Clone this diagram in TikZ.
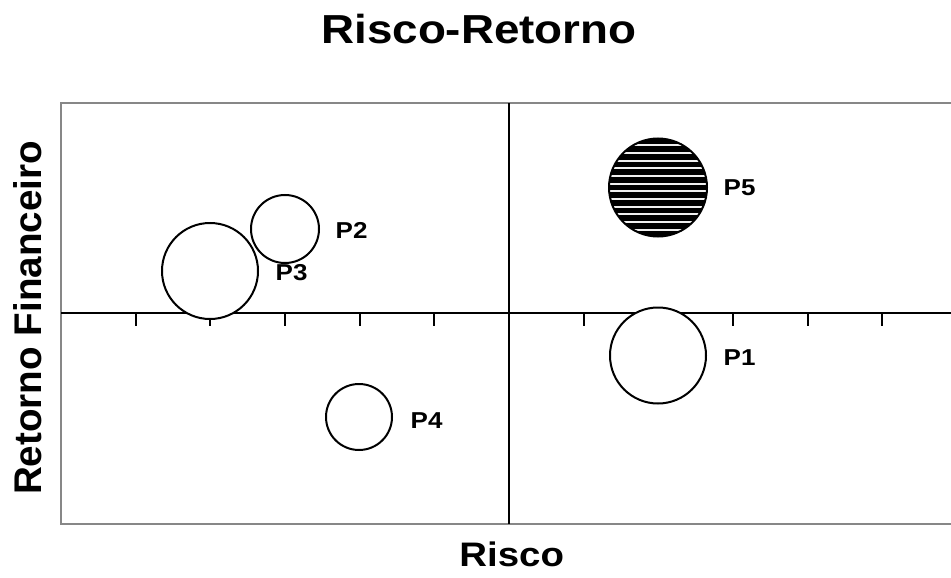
\documentclass[tikz,border=0pt]{standalone}
\usepackage{fontspec}
\setmainfont{Liberation Sans}
\newfontfamily\hfont[FakeStretch=1.13]{Liberation Sans}
\newfontfamily\vfont{Liberation Sans}
\begin{document}
\begin{tikzpicture}[x=1pt,y=-1pt,
  frame/.style={draw=black!47, line width=2pt},
  axisline/.style={draw=black, line width=2pt},
  tickmark/.style={draw=black, line width=2pt},
  bubble/.style={circle, draw=black, line width=2pt, inner sep=0pt, fill=white},
  plabel/.style={anchor=base west, inner sep=0pt, font=\hfont\bfseries\fontsize{23}{27}\selectfont},
  hatchbubble/.style={circle, draw=black, line width=2pt, inner sep=0pt, fill=black,
    path picture={
      \foreach \k in {-5.5,-4.5,...,5.5}{
        \draw[gray!12, line width=1.8pt]
          ([yshift=\k*7.67pt]path picture bounding box.west) --
          ([yshift=\k*7.67pt]path picture bounding box.east);
      }
    }}
]
\useasboundingbox (0,0) rectangle (951,578);
\fill[white] (0,0) rectangle (951,578);
\begin{scope}
\clip (0,0) rectangle (951,578);
% frame
\draw[frame] (61,103) rectangle (965,524);
% axes
\draw[axisline] (61,313) -- (965,313);
\draw[axisline] (509,103) -- (509,524);
\foreach \i in {1,...,12}{
  \draw[tickmark] ({61+74.67*\i},313) -- ({61+74.67*\i},326);
}
\end{scope}
% bubbles
\node[bubble, minimum size=96pt] (c3) at (210,271) {};
\node[bubble, minimum size=68pt] (c2) at (285,229) {};
\node[hatchbubble, minimum size=98pt] (c5) at (658,187.5) {};
\node[bubble, minimum size=96pt] (c1) at (658,355.5) {};
\node[bubble, minimum size=66pt] (c4) at (359,417) {};
% labels
\node[plabel] (l2) at (335.5,238.3) {P2};
\node[plabel] (l3) at (275.5,280) {P3};
\node[plabel] (l5) at (723.5,195) {P5};
\node[plabel] (l1) at (723.5,365) {P1};
\node[plabel] (l4) at (410.5,428.3) {P4};
% titles
\node[anchor=base, inner sep=0pt, font=\hfont\bfseries\fontsize{40.5}{48}\selectfont] (title) at (479,43.3) {Risco-Retorno};
\node[anchor=base, inner sep=0pt, font=\hfont\bfseries\fontsize{34}{40}\selectfont] (xlab) at (511.7,566.7) {Risco};
\node[anchor=base, inner sep=0pt, rotate=90, font=\vfont\bfseries\fontsize{38.6}{46}\selectfont] (ylab) at (41.7,318) {Retorno Financeiro};
\end{tikzpicture}
\end{document}
